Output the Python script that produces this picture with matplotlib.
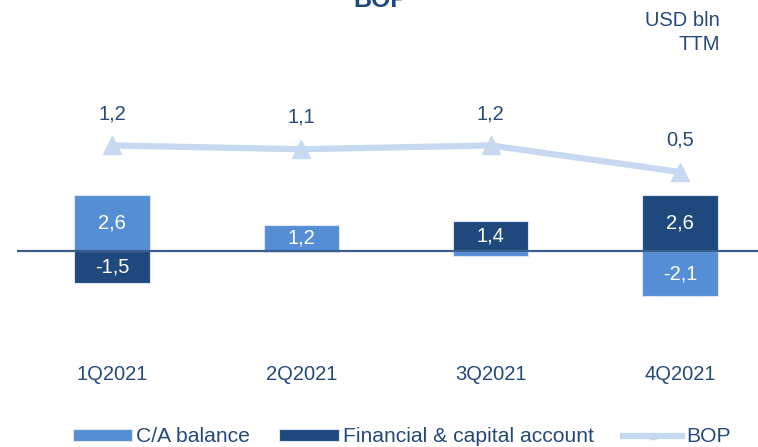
#!/usr/bin/env python3
"""BOP chart: C/A balance vs financial & capital account, with BOP line."""

import matplotlib.pyplot as plt
import numpy as np

quarters = ["1Q2021", "2Q2021", "3Q2021", "4Q2021"]
ca_balance = [2.6, 1.2, -0.25, -2.1]
fin_capital = [-1.5, -0.05, 1.4, 2.6]
bop = [1.2, 1.1, 1.2, 0.5]

ca_labels = ["2,6", "1,2", "", "-2,1"]
fin_labels = ["-1,5", "", "1,4", "2,6"]
bop_labels = ["1,2", "1,1", "1,2", "0,5"]

CA_COLOR = "#558ED5"
FIN_COLOR = "#1F497D"
BOP_COLOR = "#C6D9F1"
TEXT_COLOR = "#254A7A"
FS = 14.5

plt.rcParams["font.family"] = ["Liberation Sans", "DejaVu Sans"]
plt.rcParams["font.size"] = FS

W, H = 758, 447
fig = plt.figure(figsize=(W / 100, H / 100), dpi=100)

# axes placed in pixel coordinates
left, right, top, bottom = 17, 758, 57.5, 358.5
rect = [left / W, 1 - bottom / H, (right - left) / W, (bottom - top) / H]
ax = fig.add_axes(rect)
ax2 = fig.add_axes(rect, sharex=ax)

x = np.arange(len(quarters))
width = 0.40
xmin, xmax = -0.503, 3.413

ca = np.array(ca_balance)
fin = np.array(fin_capital)
# stack: positives above zero, negatives below
ca_base = np.zeros_like(ca)
fin_base = np.where((fin >= 0) == (ca >= 0), ca, 0.0)

ax.bar(x, ca, width, bottom=ca_base, color=CA_COLOR, edgecolor="#DCE6F2", linewidth=0.8,
       label="C/A balance", zorder=2)
ax.bar(x, fin, width, bottom=fin_base, color=FIN_COLOR, edgecolor="#DCE6F2", linewidth=0.8,
       label="Financial & capital account", zorder=2)
ax.axhline(0, color="#3A5F8F", linewidth=1.6, zorder=3)

for i in range(len(x)):
    if ca_labels[i]:
        ax.text(x[i], ca_base[i] + ca[i] / 2, ca_labels[i], ha="center", va="center",
                color="white", fontsize=FS, zorder=4)
    if fin_labels[i]:
        ax.text(x[i], fin_base[i] + fin[i] / 2, fin_labels[i], ha="center", va="center",
                color="white", fontsize=FS, zorder=4)

ax.set_xlim(xmin, xmax)
ax.set_ylim(-5, 9)
ax.axis("off")

ax2.plot(x, bop, color=BOP_COLOR, linewidth=4.5, marker="^", markersize=13, label="BOP",
         zorder=5)
for i in range(len(x)):
    ax2.annotate(bop_labels[i], (x[i], bop[i]), xytext=(0, 23), textcoords="offset points",
                 ha="center", va="center", color=TEXT_COLOR, fontsize=FS)
ax2.set_ylim(-4.42, 3.52)
ax2.axis("off")

# category labels under the bars
for i, q in enumerate(quarters):
    xf = (left + (x[i] - xmin) / (xmax - xmin) * (right - left)) / W
    fig.text(xf, 1 - 375 / H, q, ha="center", va="center", color=TEXT_COLOR, fontsize=FS)

fig.text(380 / W, 1 - 7 / H, "BOP", ha="center", va="baseline", fontsize=18,
         fontweight="bold", color=FIN_COLOR)
fig.text(720 / W, 1 - 20 / H, "USD bln", ha="right", va="center", color=TEXT_COLOR, fontsize=FS)
fig.text(720 / W, 1 - 45 / H, "TTM", ha="right", va="center", color=TEXT_COLOR, fontsize=FS)

handles = ax.get_legend_handles_labels()[0] + ax2.get_legend_handles_labels()[0]
labels = ax.get_legend_handles_labels()[1] + ax2.get_legend_handles_labels()[1]
fig.legend(handles, labels, loc="center", bbox_to_anchor=(402 / W, 1 - 437 / H), ncol=3,
           frameon=False, handlelength=2.8, handleheight=0.45, handletextpad=0.2,
           columnspacing=1.4, markerscale=0.35, labelcolor=TEXT_COLOR, fontsize=15.2)

fig.savefig("out.png", dpi=100)
